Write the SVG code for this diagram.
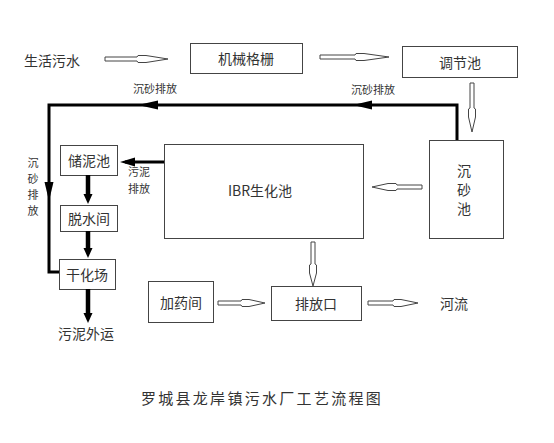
<svg xmlns="http://www.w3.org/2000/svg" width="554" height="443" viewBox="0 0 554 443">
<style>
.box{fill:#fff;stroke:#444;stroke-width:1}
.t{font-family:"Noto Sans CJK SC","Liberation Sans",sans-serif;font-size:14px;fill:#333;text-anchor:middle;dominant-baseline:central}
.s{font-size:11px}
.ho{fill:#fff;stroke:#444;stroke-width:1}
.th{fill:none;stroke:#000;stroke-width:3}
.fh{fill:#000}
</style>
<rect width="554" height="443" fill="#fff"/>
<text class="t" x="52" y="60">生活污水</text>
<g id="n_jixie"><rect class="box" x="190.5" y="43.5" width="112" height="30"/><text class="t" x="246" y="58">机械格栅</text></g>
<g id="n_tiaojie"><rect class="box" x="402.5" y="46.5" width="115" height="31"/><text class="t" x="460" y="62">调节池</text></g>
<g id="n_chensha"><rect class="box" x="429.5" y="140.5" width="74" height="98"/><text class="t" x="464" y="170">沉</text><text class="t" x="464" y="189">砂</text><text class="t" x="464" y="208">池</text></g>
<g id="n_ibr"><rect class="box" x="164.5" y="144.5" width="199" height="94"/><text class="t" x="260" y="190">IBR生化池</text></g>
<g id="n_chuni"><rect class="box" x="60.5" y="145.5" width="57" height="30"/><text class="t" x="89" y="160">储泥池</text></g>
<g id="n_tuoshui"><rect class="box" x="60.5" y="205.5" width="57" height="26"/><text class="t" x="89" y="218">脱水间</text></g>
<g id="n_ganhua"><rect class="box" x="59.5" y="259.5" width="56" height="30"/><text class="t" x="87" y="274">干化场</text></g>
<g id="n_jiayao"><rect class="box" x="148.5" y="281.5" width="65" height="41"/><text class="t" x="181" y="302">加药间</text></g>
<g id="n_paifang"><rect class="box" x="271.5" y="286.5" width="90" height="34"/><text class="t" x="316" y="303">排放口</text></g>
<text class="t" x="454" y="303">河流</text>
<text class="t" x="86" y="333">污泥外运</text>
<text class="t s" x="155" y="88">沉砂排放</text>
<text class="t s" x="373" y="89">沉砂排放</text>
<g class="t s"><text x="33" y="162">沉</text><text x="33" y="178">砂</text><text x="33" y="194">排</text><text x="33" y="210">放</text></g>
<g class="t s"><text x="139" y="171">污泥</text><text x="139" y="188">排放</text></g>
<text class="t" x="262" y="397" style="font-size:15px;letter-spacing:2.3px">罗城县龙岸镇污水厂工艺流程图</text>
<g id="connectors">
<polygon class="ho" points="105,57 137,57 138,55.5 146,55.5 168,59 146,62.5 138,62.5 137,61 105,61"/>
<polygon class="ho" points="320,55 355,55 356,53.5 364,53.5 389,57 364,60.5 356,60.5 355,59 320,59"/>
<polygon class="ho" points="470,83 470,108 468.5,109 468.5,117 472,132 475.5,117 475.5,109 474,108 474,83"/>
<polygon class="ho" points="422,185 397,185 396,183.5 388,183.5 372,187 388,190.5 396,190.5 397,189 422,189"/>
<polygon class="ho" points="311,242 311,264 309.5,265 309.5,273 313,286 316.5,273 316.5,265 315,264 315,242"/>
<polygon class="ho" points="218,301 241,301 242,299.5 249,299.5 265,303 249,306.5 242,306.5 241,305 218,305"/>
<polygon class="ho" points="368,301 393,301 394,299.5 401,299.5 418,303 401,306.5 394,306.5 393,305 368,305"/>
<path class="th" d="M457,140 V105 H49 V272 H59"/>
<polygon class="fh" points="138,105 158,100.5 158,109.5"/>
<polygon class="fh" points="353,105 372,100.5 372,109.5"/>
<polygon class="fh" points="49,201 44.5,182 53.5,182"/>
<path class="th" d="M164,162 H125"/>
<polygon class="fh" points="120,162 135,157.5 135,166.5"/>
<path d="M88,175 V196 M88,231 V250 M88,289 V315" stroke="#000" stroke-width="4.5" fill="none"/>
<polygon class="fh" points="88,204 83.5,194 92.5,194"/>
<polygon class="fh" points="88,258 83.5,248 92.5,248"/>
<polygon class="fh" points="88,323 83.5,313 92.5,313"/>
</g>
</svg>
